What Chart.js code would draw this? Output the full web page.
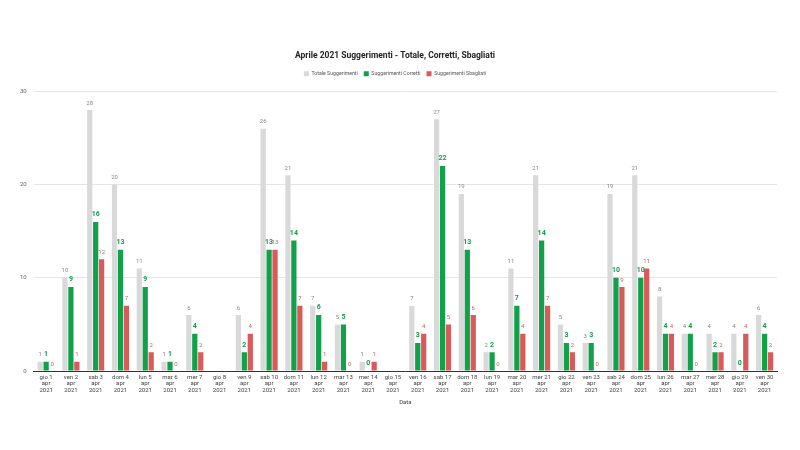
<!DOCTYPE html>
<html>
<head>
<meta charset="utf-8">
<script src="https://cdn.jsdelivr.net/npm/chart.js@4/dist/chart.umd.min.js"></script>
<style>
  html, body { margin: 0; padding: 0; background: #fff; }
  #wrap { width: 800px; height: 450px; }
</style>
</head>
<body>
<div id="wrap"><canvas id="chart" width="800" height="450"></canvas></div>
<script>
const weekdays = ['gio','ven','sab','dom','lun','mar','mer','gio','ven','sab','dom','lun','mar','mer','gio',
  'ven','sab','dom','lun','mar','mer','gio','ven','sab','dom','lun','mar','mer','gio','ven'];
const totale   = [1,10,28,20,11,1,6,0,6,26,21,7,5,1,0,7,27,19,2,11,21,5,3,19,21,8,4,4,4,6];
const corretti = [1,9,16,13,9,1,4,0,2,13,14,6,5,0,0,3,22,13,2,7,14,3,3,10,10,4,4,2,0,4];
const sbagliati= [0,1,12,7,2,0,2,0,4,13,7,1,0,1,0,4,5,6,0,4,7,2,0,9,11,4,0,2,4,2];
const yTicks = [0, 10, 20, 30];

const labels = weekdays.map((d, i) => [d + ' ' + (i + 1), 'apr', '2021']);

const GRAY = '#d9d9d9', GREEN = '#12a04a', RED = '#d85a5a';

// value labels above each bar
const barLabels = {
  id: 'barLabels',
  afterDatasetsDraw(chart) {
    const ctx = chart.ctx;
    ctx.save();
    ctx.textAlign = 'center';
    ctx.textBaseline = 'bottom';
    chart.data.datasets.forEach((ds, di) => {
      const meta = chart.getDatasetMeta(di);
      meta.data.forEach((bar, i) => {
        if (totale[i] === 0) return;
        const v = ds.data[i];
        if (di === 1) {
          ctx.font = 'bold 7px Roboto';
          ctx.fillStyle = GREEN;
        } else if (di === 2) {
          ctx.font = '6px Roboto';
          ctx.fillStyle = '#d06060';
        } else {
          ctx.font = '6px Roboto';
          ctx.fillStyle = '#888';
        }
        ctx.fillText(String(v), bar.x, bar.y - 4);
      });
    });
    ctx.restore();
  }
};

// a bit more room under the legend
const legendGap = {
  id: 'legendGap',
  beforeInit(chart) {
    const fit = chart.legend.fit;
    chart.legend.fit = function () {
      fit.bind(chart.legend)();
      this.height += 5;
    };
  }
};

new Chart(document.getElementById('chart'), {
  type: 'bar',
  data: {
    labels: labels,
    datasets: [
      { label: 'Totale Suggerimenti', data: totale, backgroundColor: GRAY },
      { label: 'Suggerimenti Corretti', data: corretti, backgroundColor: GREEN },
      { label: 'Suggerimenti Sbagliati', data: sbagliati, backgroundColor: RED }
    ]
  },
  plugins: [barLabels, legendGap],
  options: {
    responsive: false,
    animation: false,
    layout: { padding: { top: 51, left: 13, right: 23, bottom: 40 } },
    datasets: { bar: { categoryPercentage: 0.72, barPercentage: 0.88 } },
    plugins: {
      title: {
        display: true,
        text: 'Aprile 2021 Suggerimenti - Totale, Corretti, Sbagliati',
        color: '#222',
        font: { family: 'Roboto', size: 8.5, weight: 'bold' },
        padding: { top: 0, bottom: 4 }
      },
      legend: {
        position: 'top',
        labels: {
          font: { family: 'Roboto', size: 5.2 },
          color: '#555',
          boxWidth: 5,
          boxHeight: 5,
          padding: 6
        }
      },
      tooltip: { enabled: false }
    },
    scales: {
      x: {
        grid: { display: false, drawTicks: false },
        border: { color: '#333' },
        ticks: {
          font: { family: 'Roboto', size: 6, lineHeight: 1.1 },
          color: '#444',
          maxRotation: 0,
          autoSkip: false,
          padding: 3
        },
        title: {
          display: true,
          text: 'Data',
          font: { family: 'Roboto', size: 6 },
          color: '#444',
          padding: { top: 2 }
        }
      },
      y: {
        min: 0,
        max: 30,
        afterBuildTicks(axis) { axis.ticks = yTicks.map(v => ({ value: v })); },
        grid: { color: '#e6e6e6', drawTicks: false },
        border: { display: false },
        ticks: {
          font: { family: 'Roboto', size: 6 },
          color: '#666',
          padding: 7
        }
      }
    }
  }
});
</script>
</body>
</html>
